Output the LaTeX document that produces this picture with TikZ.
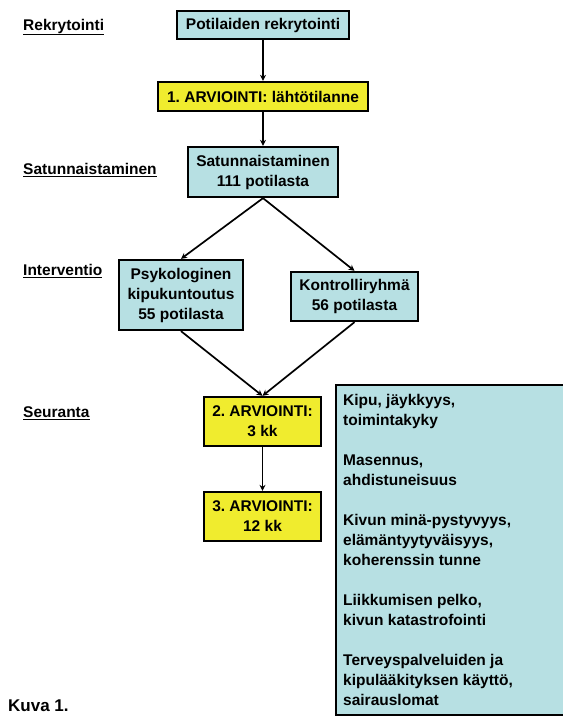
\documentclass[tikz,border=0pt]{standalone}
\usepackage{fontspec}
\setmainfont{Liberation Sans}
\usetikzlibrary{arrows.meta}
\definecolor{boxblue}{RGB}{183,224,227}
\definecolor{boxyellow}{RGB}{240,236,46}
\frenchspacing
\tikzset{
  basebox/.style={draw=black, line width=2.3pt, align=center, inner sep=0pt},
  bluebox/.style={basebox, fill=boxblue},
  yelbox/.style={basebox, fill=boxyellow},
  lbl/.style={anchor=west, inner sep=0pt},
  arr/.style={line width=1.7pt, -{Stealth[length=6pt,width=6pt]}},
}
\begin{document}
\begin{tikzpicture}[x=1pt,y=-1pt, font=\fontsize{15.5}{20}\selectfont\bfseries]
\useasboundingbox (0,0) rectangle (563,716);
\clip (0,0) rectangle (563,716);

% left labels
\node[lbl] (l1) at (23,27) {\underline{Rekrytointi}};
\node[lbl] (l2) at (23,170) {\underline{Satunnaistaminen}};
\node[lbl] (l3) at (23,271) {\underline{Interventio}};
\node[lbl] (l4) at (23,413) {\underline{Seuranta}};

% flow boxes
\node[bluebox, minimum width=172pt, minimum height=28pt] (rec) at (263,25) {Potilaiden rekrytointi};
\node[yelbox, minimum width=210pt, minimum height=29pt] (arv1) at (263,96.5) {1. ARVIOINTI: lähtötilanne};
\node[bluebox, minimum width=150pt, minimum height=50pt] (sat) at (263,172) {Satunnaistaminen\\111 potilasta};
\node[bluebox, minimum width=124pt, minimum height=70pt] (psy) at (181,295) {Psykologinen\\kipukuntoutus\\55 potilasta};
\node[bluebox, minimum width=127pt, minimum height=49pt] (kon) at (354.5,296.5) {Kontrolliryhmä\\56 potilasta};
\node[yelbox, minimum width=117pt, minimum height=49pt] (arv2) at (262.5,421.5) {2. ARVIOINTI:\\3 kk};
\node[yelbox, minimum width=117pt, minimum height=49pt] (arv3) at (262.5,516.5) {3. ARVIOINTI:\\12 kk};

% measures box
\node[bluebox, anchor=north west, minimum width=240pt, minimum height=330pt] (big) at (335,384) {};
\node[anchor=north west, align=left, inner sep=0pt] (bigtxt) at (343,394) {Kipu, jäykkyys,\\toimintakyky\\[20pt]Masennus,\\ahdistuneisuus\\[20pt]Kivun minä-pystyvyys,\\elämäntyytyväisyys,\\koherenssin tunne\\[20pt]Liikkumisen pelko,\\kivun katastrofointi\\[20pt]Terveyspalveluiden ja\\kipulääkityksen käyttö,\\sairauslomat};

% caption
\node[anchor=base west, inner sep=0pt, font=\fontsize{17}{20}\selectfont\bfseries] (kuva) at (8,711) {Kuva 1.};

% connectors
\draw[arr] (rec) -- (arv1);
\draw[arr] (arv1) -- (sat);
\draw[arr] (sat.south) -- (psy.north);
\draw[arr] (sat.south) -- (kon.north);
\draw[arr] (psy.south) -- (arv2.north);
\draw[arr] (kon.south) -- (arv2.north);
\draw[arr] (arv2) -- (arv3);
\end{tikzpicture}
\end{document}
